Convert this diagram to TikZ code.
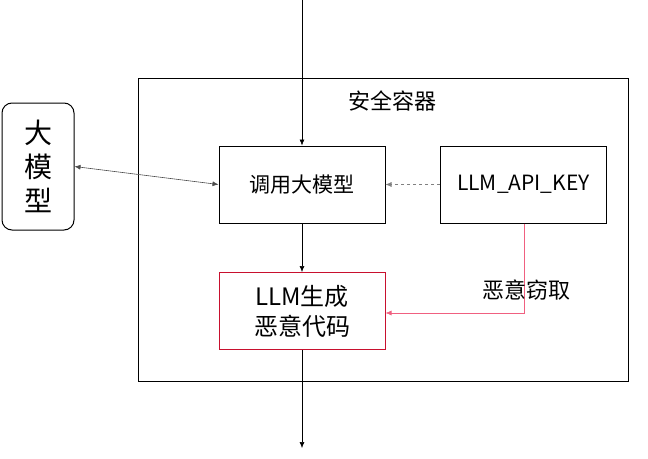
\documentclass[tikz,border=0pt]{standalone}
\usepackage{fontspec}
\setmainfont{Noto Sans CJK SC}
\usetikzlibrary{arrows.meta}
\definecolor{redc}{HTML}{C8102E}
\definecolor{pinkc}{HTML}{F06080}
\tikzset{x=1pt,y=-1pt,
 box/.style={draw,line width=1pt,minimum width=166pt,minimum height=77pt,font=\fontsize{21}{25}\selectfont,align=center,inner sep=0pt},
 arr/.style={-{Latex[length=6pt,width=5pt]},line width=0.6pt}}
\begin{document}
\begin{tikzpicture}
\useasboundingbox (0,0) rectangle (648,458);
\node[draw,line width=1pt,minimum width=490pt,minimum height=303pt,inner sep=0pt] (cont) at (383,229.5) {};
\node[font=\fontsize{22}{26}\selectfont] (title) at (392,101) {安全容器};
\node[draw,line width=1pt,rounded corners=10pt,minimum width=72pt,minimum height=127pt,font=\fontsize{28}{34}\selectfont,align=center,inner sep=0pt] (llm) at (38,166.5) {大\\模\\型};
\node[box] (call) at (302,184.5) {调用大模型};
\node[box] (key) at (523.5,184.5) {LLM\_API\_KEY};
\node[box,draw=redc,font=\fontsize{24}{30}\selectfont] (gen) at (302,311) {LLM生成\\恶意代码};
\coordinate (top) at (302,0);
\coordinate (bot) at (302,448);
\coordinate (turn) at (524,313);
\draw[arr] (top) -- (call.north);
\draw[arr] (call.south) -- (gen.north);
\draw[arr] (gen.south) -- (bot);
\draw[arr,{Latex[length=6pt,width=5pt]}-{Latex[length=6pt,width=5pt]},black!70] (llm.east) -- (call.west);
\draw[arr,dashed,gray] (key.west) -- (call.east);
\draw[arr,pinkc] (key.south -| turn) -- (turn) -- (gen.east |- turn);
\node[font=\fontsize{22}{26}\selectfont] (steal) at (526,290) {恶意窃取};
\end{tikzpicture}
\end{document}
